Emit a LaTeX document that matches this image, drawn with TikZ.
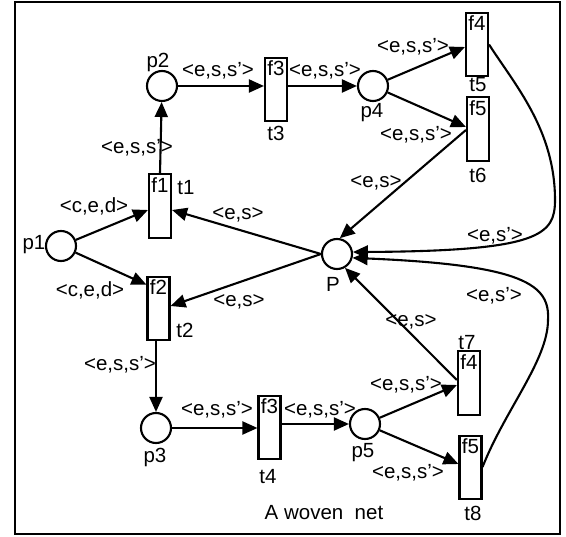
\documentclass[tikz,border=0pt]{standalone}
\usepackage{fontspec}
\setmainfont{Liberation Sans}
\usetikzlibrary{arrows.meta,calc}

\begin{document}
\begin{tikzpicture}[x=1pt,y=-1pt,
  font=\fontsize{20.5}{24}\selectfont,
  place/.style={circle,draw,line width=2.1pt,minimum size=30pt,inner sep=0pt},
  trans/.style={rectangle,draw,line width=2.1pt,minimum width=22pt,minimum height=63.5pt,inner sep=0pt},
  arc/.style={line width=2.1pt,-{Triangle[length=15pt,width=13pt]}},
  lbl/.style={inner sep=0pt},
  fn/.style={inner sep=0pt,anchor=north},
]
\useasboundingbox (0,0) rectangle (566,537);
\draw[line width=2.5pt] (15,2) rectangle (560,534);

% places
\node[place] (p1) at (61,246) {};
\node[place] (p2) at (162,86) {};
\node[place] (p3) at (156,428) {};
\node[place] (p4) at (373,86) {};
\node[place] (p5) at (365,424) {};
\node[place] (P)  at (337,254) {};

% transitions
\node[trans] (t1) at (160,206) {};
\node[trans] (t3) at (276,89.5) {};
\node[trans] (t5) at (477,44.5) {};
\node[trans] (t6) at (478,129) {};
\node[trans] (t2) at (158.5,308.5) {};
\node[trans] (t4) at (269.5,427.5) {};
\node[trans] (t7) at (469,383) {};
\node[trans] (t8) at (470.5,467.5) {};

% functions inside the transitions
\node[fn] (f1) at ($(t1.north)+(0,4)$) {f1};
\node[fn] (f3a) at ($(t3.north)+(0,4)$) {f3};
\node[fn] (f4a) at ($(t5.north)+(0,4)$) {f4};
\node[fn] (f5a) at ($(t6.north)+(0,4)$) {f5};
\node[fn] (f2) at ($(t2.north)+(0,4)$) {f2};
\node[fn] (f3b) at ($(t4.north)+(0,4)$) {f3};
\node[fn] (f4b) at ($(t7.north)+(0,4)$) {f4};
\node[fn] (f5b) at ($(t8.north)+(0,4)$) {f5};

% transition names
\node[lbl] (nt1) at (186,188) {t1};
\node[lbl] (nt3) at (276,133) {t3};
\node[lbl] (nt5) at (478,85) {t5};
\node[lbl] (nt6) at (478,175) {t6};
\node[lbl] (nt2) at (185,330) {t2};
\node[lbl] (nt4) at (268,477) {t4};
\node[lbl] (nt7) at (467,343) {t7};
\node[lbl] (nt8) at (473,513) {t8};

% place names
\node[lbl] (np1) at (34,245) {p1};
\node[lbl] (np2) at (158,62) {p2};
\node[lbl] (np3) at (155,457) {p3};
\node[lbl] (np4) at (372,113) {p4};
\node[lbl] (np5) at (363,453) {p5};
\node[lbl] (nP)  at (333,284) {P};

% arcs
\draw[arc] (p1) -- ($(t1.west)+(0,4)$);
\draw[arc] (p1) -- ($(t2.north west)+(0,9)$);
\draw[arc] (t1.north) -- (p2);
\draw[arc] (p2) -- (p2 -| t3.west);
\draw[arc] (t3.east |- p4) -- (p4);
\draw[arc] (p4) -- ($(t5.west)+(0,2.5)$);
\draw[arc] (p4) -- ($(t6.west)+(0,-2)$);
\draw[arc] ($(t6.west)+(0,1)$) -- (P.80);
\draw[arc] (t5.east) .. controls (515,85) and (555,130) .. (555,200)
                     .. controls (555,235) and (540,251) .. (P.7);
\draw[arc] (P.west) -- ($(t1.east)+(0,4)$);
\draw[arc] (P.west) -- ($(t2.east)+(0,-2.5)$);
\draw[arc] (t2.south -| p3) -- (p3);
\draw[arc] (p3) -- (p3 -| t4.west);
\draw[arc] (t4.east |- p5) -- (p5);
\draw[arc] (p5) -- ($(t7.west)+(0,2)$);
\draw[arc] (p5) -- ($(t8.west)+(0,-3.5)$);
\draw[arc] ($(t7.west)+(0,-3)$) -- (P.-60);
\draw[arc] ($(t8.east)+(0,-0.5)$) .. controls (505,410) and (548,360) .. (548,320)
                                  .. controls (550,285) and (525,265) .. (P.-14);

% arc inscriptions
\node[lbl] (a1)  at (94,206)  {<c,e,d>};
\node[lbl] (a2)  at (90,290)  {<c,e,d>};
\node[lbl] (a3)  at (137,148) {<e,s,s'>};
\node[lbl] (a4)  at (218,71)  {<e,s,s'>};
\node[lbl] (a5)  at (325,71)  {<e,s,s'>};
\node[lbl] (a6)  at (413,47)  {<e,s,s'>};
\node[lbl] (a7)  at (416,135) {<e,s,s'>};
\node[lbl] (a8)  at (376,183) {<e,s>};
\node[lbl] (a9)  at (495,236) {<e,s'>};
\node[lbl] (a10) at (238,215) {<e,s>};
\node[lbl] (a11) at (239,302) {<e,s>};
\node[lbl] (a12) at (120,365) {<e,s,s'>};
\node[lbl] (a13) at (217,410) {<e,s,s'>};
\node[lbl] (a14) at (320,410) {<e,s,s'>};
\node[lbl] (a15) at (406,385) {<e,s,s'>};
\node[lbl] (a16) at (408,473) {<e,s,s'>};
\node[lbl] (a17) at (411,322) {<e,s>};
\node[lbl] (a18) at (494,296) {<e,s'>};

% caption
\node[lbl] (cap) at (324,513) {A woven\ \ net};
\end{tikzpicture}
\end{document}
